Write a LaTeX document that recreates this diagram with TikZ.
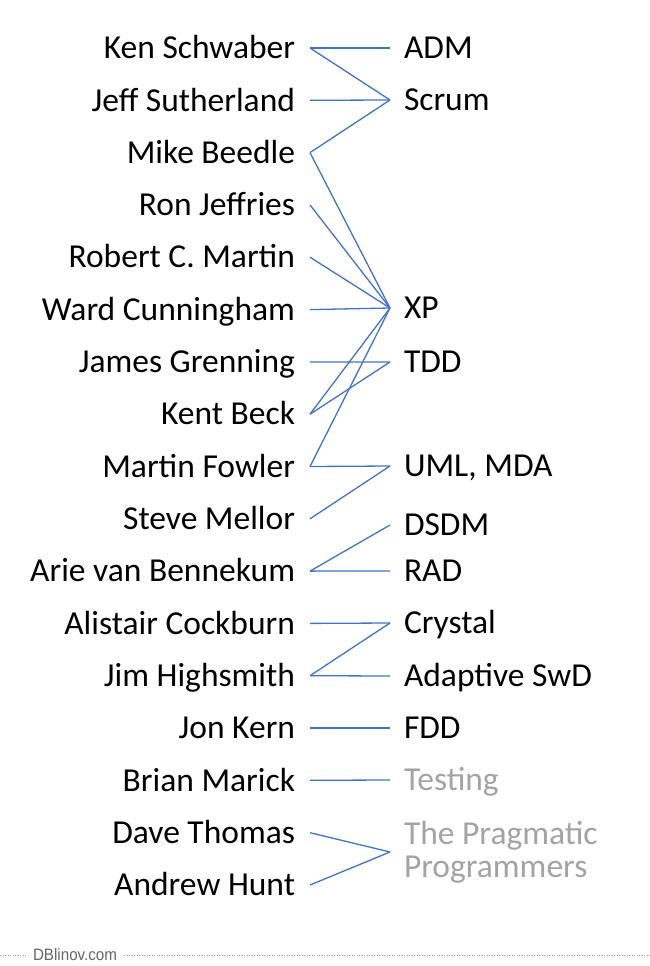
\documentclass[tikz,border=0pt]{standalone}
\usepackage{fontspec}
\setmainfont{Carlito}
\newfontfamily\footfont[FakeStretch=0.92]{Liberation Sans}
\usetikzlibrary{positioning}
\definecolor{linkblue}{HTML}{4472C4}
\definecolor{faded}{HTML}{A3A3A3}

\begin{document}
\begin{tikzpicture}[
    x=1pt, y=-1pt,
    who/.style={anchor=east, inner sep=0pt, outer xsep=15pt, text height=21.5pt, text depth=0pt, font=\fontsize{33.5}{33}\selectfont},
    what/.style={anchor=west, inner sep=0pt, outer xsep=14pt, text height=21.5pt, text depth=0pt, font=\fontsize{33.5}{33}\selectfont},
    link/.style={draw=linkblue, line width=1.3pt}
  ]
  \useasboundingbox (0,0) rectangle (650,966);

  % signatories
  \node[who] (ken)    at (310,48)    {Ken Schwaber};
  \node[who] (jeff)   at (310,100.3) {Jeff Sutherland};
  \node[who] (mike)   at (310,152.6) {Mike Beedle};
  \node[who] (ron)    at (310,204.9) {Ron Jeffries};
  \node[who] (bob)    at (310,257.2) {Robert C. Martin};
  \node[who] (ward)   at (310,309.6) {Ward Cunningham};
  \node[who] (james)  at (310,361.9) {James Grenning};
  \node[who] (kent)   at (310,414.2) {Kent Beck};
  \node[who] (martin) at (310,466.5) {Martin Fowler};
  \node[who] (steve)  at (310,518.8) {Steve Mellor};
  \node[who] (arie)   at (310,571.1) {Arie van Bennekum};
  \node[who] (alist)  at (310,623.4) {Alistair Cockburn};
  \node[who] (jim)    at (310,675.7) {Jim Highsmith};
  \node[who] (jon)    at (310,728)   {Jon Kern};
  \node[who] (brian)  at (310,780.3) {Brian Marick};
  \node[who] (dave)   at (310,832.7) {Dave Thomas};
  \node[who] (andy)   at (310,885)   {Andrew Hunt};

  % methods
  \node[what] (adm)      at (390,48)  {ADM};
  \node[what] (scrum)    at (390,100) {Scrum};
  \node[what] (xp)       at (390,308) {XP};
  \node[what] (tdd)      at (390,362) {TDD};
  \node[what] (uml)      at (390,466) {UML, MDA};
  \node[what] (dsdm)     at (390,525) {DSDM};
  \node[what] (rad)      at (390,571) {RAD};
  \node[what] (crystal)  at (390,623) {Crystal};
  \node[what] (adaptive) at (390,676) {Adaptive SwD};
  \node[what] (fdd)      at (390,728) {FDD};
  \node[what, text=faded] (testing) at (390,780) {Testing};
  \node[anchor=west, inner sep=0pt, outer xsep=14pt, align=left, text=faded,
        font=\fontsize{33.5}{33}\selectfont] (prag) at (390,852) {The Pragmatic\\Programmers};

  % who brought what
  \draw[link] (ken.east) -- (adm.west);
  \draw[link] (ken.east) -- (scrum.west);
  \draw[link] (jeff.east) -- (scrum.west);
  \draw[link] (mike.east) -- (scrum.west);
  \draw[link] (mike.east) -- (xp.west);
  \draw[link] (ron.east) -- (xp.west);
  \draw[link] (bob.east) -- (xp.west);
  \draw[link] (ward.east) -- (xp.west);
  \draw[link] (james.east) -- (tdd.west);
  \draw[link] (kent.east) -- (xp.west);
  \draw[link] (kent.east) -- (tdd.west);
  \draw[link] (martin.east) -- (xp.west);
  \draw[link] (martin.east) -- (uml.west);
  \draw[link] (steve.east) -- (uml.west);
  \draw[link] (arie.east) -- (dsdm.west);
  \draw[link] (arie.east) -- (rad.west);
  \draw[link] (alist.east) -- (crystal.west);
  \draw[link] (jim.east) -- (crystal.west);
  \draw[link] (jim.east) -- (adaptive.west);
  \draw[link] (jon.east) -- (fdd.west);
  \draw[link] (brian.east) -- (testing.west);
  \draw[link] (dave.east) -- (prag.west);
  \draw[link] (andy.east) -- (prag.west);

  % footer
  \node[anchor=west, inner sep=0pt, outer xsep=7pt, text=black!60, font=\footfont\fontsize{16.5}{16.5}\selectfont] (site) at (26,955) {DBlinov.com};
  \coordinate (footL) at (0,955);
  \coordinate (footR) at (650,955);
  \draw[black!40, line width=0.5pt, dotted] (footL) -- (site.west);
  \draw[black!40, line width=0.5pt, dotted] (site.east) -- (footR);
\end{tikzpicture}
\end{document}
